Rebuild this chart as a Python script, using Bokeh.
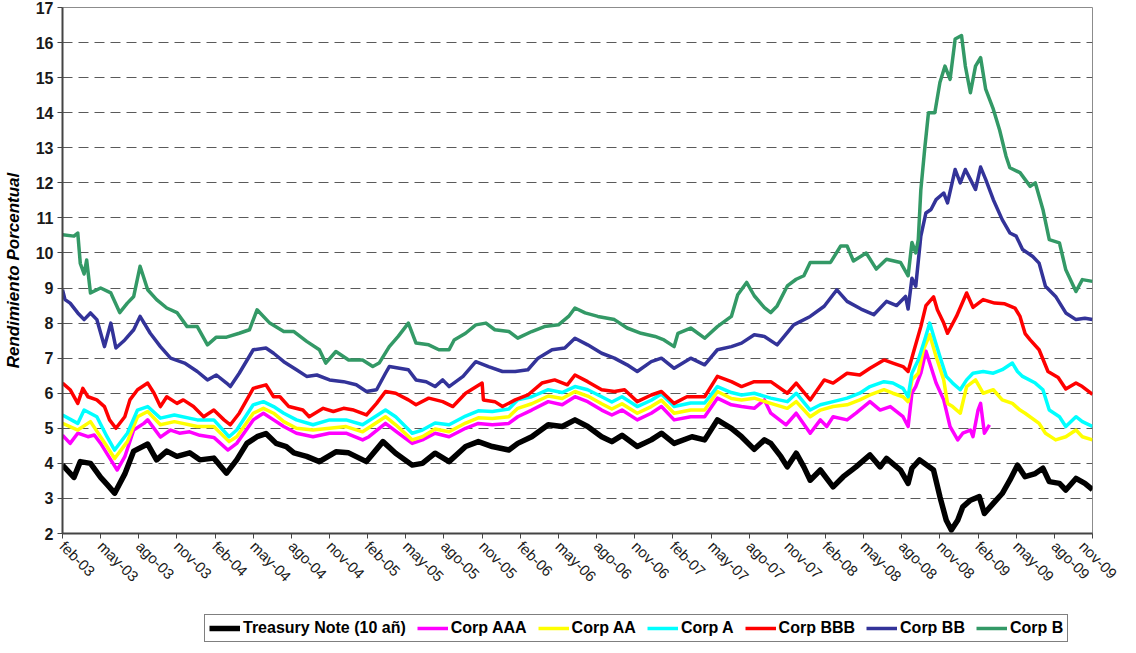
import math
from bokeh.plotting import figure
from bokeh.layouts import column
from bokeh.models import FixedTicker, Legend, LegendItem, Range1d
from bokeh.embed import file_html
from bokeh.resources import INLINE

# x = months since feb-2003
TICK_LABELS = ["feb-03", "may-03", "ago-03", "nov-03", "feb-04", "may-04", "ago-04", "nov-04",
               "feb-05", "may-05", "ago-05", "nov-05", "feb-06", "may-06", "ago-06", "nov-06",
               "feb-07", "may-07", "ago-07", "nov-07", "feb-08", "may-08", "ago-08", "nov-08",
               "feb-09", "may-09", "ago-09", "nov-09"]
Y_TICKS = list(range(2, 18))

SERIES_NAMES = ["Treasury Note (10 añ)", "Corp AAA", "Corp AA", "Corp A", "Corp BBB", "Corp BB", "Corp B"]

TREASURY = [(0.0, 3.95), (0.9, 3.6), (1.4, 4.05), (2.2, 4.0), (3.0, 3.6), (3.5, 3.4), (4.1, 3.15), (4.9, 3.7),
            (5.6, 4.35), (6.7, 4.55), (7.4, 4.1), (8.2, 4.35), (9.0, 4.2), (10.0, 4.3), (10.8, 4.1), (11.9, 4.15),
            (12.9, 3.72), (13.7, 4.1), (14.5, 4.57), (15.3, 4.76), (16.0, 4.85), (16.8, 4.57), (17.6, 4.48),
            (18.2, 4.3), (19.2, 4.2), (20.2, 4.05), (21.5, 4.33), (22.5, 4.3), (23.9, 4.05), (25.2, 4.62),
            (26.2, 4.29), (27.5, 3.95), (28.3, 4.0), (29.3, 4.29), (30.4, 4.05), (31.7, 4.48), (32.7, 4.62),
            (33.8, 4.48), (35.1, 4.38), (35.8, 4.57), (36.9, 4.76), (38.2, 5.1), (39.3, 5.05), (40.3, 5.24),
            (41.3, 5.05), (42.4, 4.76), (43.2, 4.62), (44.0, 4.8), (45.2, 4.48), (46.3, 4.67), (47.1, 4.86),
            (48.1, 4.57), (49.5, 4.76), (50.5, 4.67), (51.5, 5.24), (52.6, 5.0), (53.4, 4.76), (54.4, 4.4),
            (55.2, 4.67), (55.7, 4.57), (56.5, 4.19), (57.0, 3.9), (57.7, 4.29), (58.3, 3.9), (58.8, 3.52),
            (59.6, 3.81), (60.6, 3.33), (61.4, 3.62), (62.4, 3.9), (63.5, 4.24), (64.3, 3.9), (64.8, 4.14),
            (65.9, 3.81), (66.5, 3.43), (66.8, 3.86), (67.4, 4.1), (68.5, 3.81), (69.0, 3.05), (69.5, 2.38),
            (69.9, 2.1), (70.4, 2.38), (70.8, 2.76), (71.4, 2.95), (72.1, 3.05), (72.5, 2.57), (73.2, 2.86),
            (73.9, 3.14), (74.5, 3.52), (75.1, 3.95), (75.7, 3.62), (76.5, 3.71), (77.1, 3.86), (77.6, 3.48),
            (78.4, 3.43), (78.9, 3.24), (79.7, 3.57), (80.4, 3.43), (81.0, 3.25)]

CORP_AAA = [(0.0, 4.8), (0.6, 4.57), (1.2, 4.86), (2.0, 4.76), (2.5, 4.81), (3.0, 4.57), (3.8, 4.1), (4.3, 3.81),
            (4.9, 4.19), (5.6, 4.95), (6.4, 5.14), (6.7, 5.24), (7.7, 4.75), (8.5, 4.95), (9.2, 4.86), (10.0, 4.9),
            (10.8, 4.8), (11.9, 4.74), (13.0, 4.38), (13.7, 4.57), (15.0, 5.24), (15.8, 5.43), (16.6, 5.24),
            (17.4, 5.05), (18.4, 4.86), (19.7, 4.76), (21.0, 4.86), (22.3, 4.86), (23.6, 4.67), (24.1, 4.76),
            (25.4, 5.14), (26.2, 4.92), (27.5, 4.57), (28.3, 4.67), (29.3, 4.86), (30.4, 4.76), (31.7, 5.0),
            (32.7, 5.14), (33.8, 5.1), (35.1, 5.14), (35.8, 5.33), (36.9, 5.52), (38.2, 5.76), (39.3, 5.67),
            (40.3, 5.9), (41.3, 5.76), (42.4, 5.52), (43.2, 5.38), (44.0, 5.52), (45.2, 5.24), (46.3, 5.43),
            (47.1, 5.62), (48.1, 5.24), (49.4, 5.33), (50.5, 5.33), (51.5, 5.86), (52.6, 5.67), (53.4, 5.62),
            (54.4, 5.57), (55.2, 5.81), (55.7, 5.43), (56.9, 5.1), (57.7, 5.43), (58.8, 4.86), (59.6, 5.24),
            (60.1, 5.05), (60.6, 5.33), (61.7, 5.24), (62.4, 5.43), (63.5, 5.76), (64.3, 5.52), (65.1, 5.62),
            (66.1, 5.33), (66.5, 5.05), (66.8, 6.0), (67.1, 6.19), (67.5, 6.57), (67.9, 7.2), (68.2, 6.86),
            (68.7, 6.29), (69.3, 5.81), (69.8, 5.05), (70.4, 4.67), (70.8, 4.86), (71.4, 4.95), (71.6, 4.76),
            (72.0, 5.52), (72.2, 5.71), (72.5, 4.86), (72.9, 5.1)]

CORP_AA = [(0.0, 5.14), (1.2, 4.95), (2.2, 5.19), (3.5, 4.48), (4.1, 4.14), (5.1, 4.62), (5.9, 5.33), (6.7, 5.48),
           (7.7, 5.1), (8.8, 5.19), (10.6, 5.05), (11.9, 5.05), (13.1, 4.62), (13.7, 4.76), (15.0, 5.43),
           (15.8, 5.57), (16.6, 5.43), (17.4, 5.19), (18.4, 5.0), (19.7, 4.95), (21.0, 5.0), (22.3, 5.05),
           (23.6, 4.9), (25.4, 5.33), (26.2, 5.1), (27.5, 4.67), (28.3, 4.76), (29.3, 4.98), (30.4, 4.9),
           (31.7, 5.15), (32.7, 5.3), (33.8, 5.28), (35.1, 5.33), (35.8, 5.57), (36.9, 5.7), (38.2, 5.92),
           (39.3, 5.85), (40.3, 6.05), (41.3, 5.92), (42.4, 5.7), (43.2, 5.55), (44.0, 5.7), (45.2, 5.43),
           (46.3, 5.62), (47.1, 5.8), (48.1, 5.43), (49.4, 5.52), (50.5, 5.52), (51.5, 6.05), (52.6, 5.85),
           (53.4, 5.81), (54.4, 5.86), (55.7, 5.71), (57.0, 5.57), (57.7, 5.76), (58.8, 5.33), (59.6, 5.52),
           (60.6, 5.62), (61.7, 5.67), (62.7, 5.81), (63.5, 5.95), (64.6, 6.1), (65.3, 6.0), (66.1, 5.9),
           (66.5, 5.76), (66.8, 6.38), (67.3, 6.57), (67.7, 7.24), (68.2, 7.67), (68.7, 7.05), (69.3, 6.38),
           (69.6, 5.71), (70.0, 5.62), (70.6, 5.43), (71.1, 6.19), (71.8, 6.38), (72.4, 6.0), (73.2, 6.1),
           (73.9, 5.81), (74.7, 5.71), (75.3, 5.52), (75.7, 5.43), (76.8, 5.14), (77.3, 4.86), (78.1, 4.67),
           (78.9, 4.76), (79.7, 4.95), (80.2, 4.76), (81.0, 4.67)]

CORP_A = [(0.0, 5.38), (1.2, 5.14), (1.7, 5.52), (2.7, 5.33), (3.5, 4.76), (4.1, 4.38), (5.1, 4.86), (5.9, 5.52),
          (6.7, 5.62), (7.7, 5.29), (8.8, 5.38), (10.6, 5.24), (11.9, 5.24), (13.1, 4.76), (13.7, 4.95),
          (15.0, 5.67), (15.8, 5.76), (16.6, 5.62), (17.4, 5.43), (18.4, 5.24), (19.7, 5.1), (21.0, 5.24),
          (22.3, 5.24), (23.6, 5.1), (25.4, 5.52), (26.2, 5.33), (27.5, 4.86), (28.3, 4.95), (29.3, 5.15),
          (30.4, 5.1), (31.7, 5.35), (32.7, 5.5), (33.8, 5.48), (35.1, 5.55), (35.8, 5.81), (36.9, 5.9),
          (38.2, 6.1), (39.3, 6.02), (40.3, 6.19), (41.3, 6.1), (42.4, 5.9), (43.2, 5.75), (44.0, 5.9),
          (45.2, 5.62), (46.3, 5.8), (47.1, 5.98), (48.1, 5.62), (49.4, 5.72), (50.5, 5.72), (51.5, 6.19),
          (52.6, 6.02), (53.4, 5.95), (54.4, 6.0), (55.7, 5.86), (57.0, 5.76), (57.7, 6.0), (58.8, 5.52),
          (59.6, 5.67), (60.6, 5.76), (61.7, 5.86), (62.7, 6.0), (63.5, 6.19), (64.6, 6.33), (65.3, 6.29),
          (66.1, 6.14), (66.5, 5.9), (66.8, 6.57), (67.3, 6.95), (67.8, 7.52), (68.2, 8.0), (68.6, 7.52),
          (69.0, 7.05), (69.5, 6.48), (70.0, 6.29), (70.6, 6.1), (71.1, 6.38), (71.6, 6.57), (72.4, 6.62),
          (73.2, 6.57), (73.9, 6.67), (74.7, 6.86), (75.1, 6.62), (75.5, 6.48), (76.5, 6.29), (77.1, 6.1),
          (77.6, 5.52), (78.4, 5.33), (78.9, 5.05), (79.7, 5.33), (80.2, 5.19), (81.0, 5.05)]

CORP_BBB = [(0.0, 6.29), (0.6, 6.1), (1.2, 5.71), (1.6, 6.14), (2.0, 5.9), (2.7, 5.81), (3.3, 5.62), (3.7, 5.24),
            (4.2, 5.0), (4.9, 5.33), (5.3, 5.81), (5.9, 6.1), (6.7, 6.29), (7.2, 6.0), (7.7, 5.62), (8.2, 5.9),
            (9.0, 5.71), (9.5, 5.81), (10.3, 5.62), (11.1, 5.33), (11.9, 5.52), (12.7, 5.24), (13.2, 5.1),
            (13.9, 5.43), (15.0, 6.14), (16.0, 6.24), (16.6, 5.9), (17.1, 5.9), (17.8, 5.62), (18.9, 5.52),
            (19.4, 5.33), (20.5, 5.57), (21.3, 5.48), (22.1, 5.57), (22.9, 5.52), (23.9, 5.38), (24.7, 5.71),
            (25.4, 6.05), (26.2, 6.0), (27.2, 5.81), (27.8, 5.67), (28.8, 5.86), (29.9, 5.76), (30.7, 5.62),
            (31.7, 6.0), (33.0, 6.29), (33.1, 5.81), (34.0, 5.76), (34.6, 5.62), (35.6, 5.81), (36.6, 5.95),
            (37.7, 6.29), (38.7, 6.38), (39.7, 6.24), (40.3, 6.52), (41.3, 6.33), (42.4, 6.1), (43.4, 6.05),
            (44.2, 6.1), (45.2, 5.76), (46.3, 5.95), (47.1, 6.05), (48.1, 5.71), (49.1, 5.9), (50.5, 5.9),
            (51.5, 6.48), (52.6, 6.33), (53.4, 6.19), (54.4, 6.33), (55.7, 6.33), (57.0, 6.0), (57.7, 6.29),
            (58.8, 5.81), (59.9, 6.38), (60.6, 6.29), (61.7, 6.57), (62.7, 6.52), (63.5, 6.71), (64.6, 6.95),
            (65.3, 6.86), (66.1, 6.76), (66.5, 6.62), (66.9, 7.14), (67.5, 7.9), (67.9, 8.5), (68.5, 8.75),
            (68.8, 8.38), (69.3, 8.0), (69.6, 7.71), (70.3, 8.19), (71.1, 8.86), (71.6, 8.45), (72.4, 8.67),
            (73.3, 8.57), (74.1, 8.55), (74.9, 8.43), (75.3, 8.19), (75.7, 7.7), (76.1, 7.52), (76.8, 7.24),
            (77.5, 6.62), (78.3, 6.45), (78.9, 6.12), (79.7, 6.29), (80.2, 6.19), (81.0, 5.97)]

CORP_BB = [(0.0, 8.95), (0.2, 8.67), (0.6, 8.57), (1.2, 8.29), (1.7, 8.1), (2.2, 8.29), (2.7, 8.1), (3.3, 7.33),
           (3.8, 8.0), (4.2, 7.29), (4.9, 7.52), (5.6, 7.81), (6.1, 8.19), (6.9, 7.71), (7.7, 7.33), (8.5, 7.0),
           (9.6, 6.86), (10.6, 6.62), (11.4, 6.38), (12.1, 6.52), (12.9, 6.29), (13.2, 6.19), (13.9, 6.57),
           (15.0, 7.24), (16.0, 7.29), (16.6, 7.14), (17.4, 6.9), (18.4, 6.67), (19.2, 6.48), (20.0, 6.52),
           (21.0, 6.38), (22.1, 6.33), (23.1, 6.24), (23.9, 6.05), (24.7, 6.1), (25.4, 6.57), (25.7, 6.76),
           (26.5, 6.71), (27.2, 6.67), (27.8, 6.38), (28.6, 6.33), (29.3, 6.19), (29.9, 6.38), (30.4, 6.19),
           (31.5, 6.48), (32.5, 6.9), (33.5, 6.76), (34.6, 6.62), (35.6, 6.62), (36.6, 6.67), (37.4, 7.0),
           (38.5, 7.24), (39.5, 7.29), (40.3, 7.57), (41.3, 7.38), (42.4, 7.14), (43.4, 7.0), (44.4, 6.81),
           (45.2, 6.62), (46.3, 6.9), (47.1, 7.0), (48.1, 6.71), (49.4, 7.0), (50.5, 6.81), (51.5, 7.24),
           (52.6, 7.33), (53.4, 7.43), (54.4, 7.67), (55.2, 7.62), (56.2, 7.38), (57.5, 7.95), (58.8, 8.19),
           (59.9, 8.48), (60.9, 8.95), (61.7, 8.62), (62.8, 8.4), (63.8, 8.24), (64.8, 8.62), (65.6, 8.5),
           (66.3, 8.76), (66.5, 8.4), (66.8, 9.28), (67.1, 9.05), (67.5, 10.48), (67.9, 11.14), (68.3, 11.24),
           (68.7, 11.52), (69.3, 11.71), (69.6, 11.43), (70.2, 12.38), (70.6, 12.0), (71.0, 12.38), (71.4, 12.1),
           (71.8, 11.81), (72.2, 12.45), (72.6, 12.1), (73.2, 11.52), (73.9, 10.95), (74.5, 10.57),
           (75.0, 10.48), (75.5, 10.1), (76.3, 9.9), (76.8, 9.71), (77.3, 9.05), (78.1, 8.76), (78.9, 8.29),
           (79.7, 8.1), (80.4, 8.14), (81.0, 8.1)]

CORP_B = [(0.0, 10.52), (0.9, 10.48), (1.2, 10.57), (1.4, 9.7), (1.7, 9.4), (1.9, 9.8), (2.2, 8.86), (3.0, 9.0),
          (3.8, 8.86), (4.5, 8.3), (5.1, 8.57), (5.6, 8.76), (6.1, 9.62), (6.7, 8.95), (7.4, 8.67), (8.2, 8.43),
          (9.0, 8.3), (9.8, 7.9), (10.6, 7.9), (11.4, 7.38), (12.1, 7.6), (12.9, 7.6), (13.9, 7.71), (14.7, 7.81),
          (15.3, 8.38), (16.3, 8.0), (17.4, 7.76), (18.2, 7.76), (19.2, 7.48), (20.2, 7.24), (20.7, 6.86),
          (21.5, 7.19), (22.5, 6.95), (23.6, 6.95), (24.4, 6.76), (24.9, 6.86), (25.7, 7.33), (26.4, 7.62),
          (27.2, 8.0), (27.8, 7.43), (28.8, 7.38), (29.6, 7.24), (30.4, 7.24), (30.8, 7.52), (31.7, 7.71),
          (32.5, 7.95), (33.3, 8.0), (34.0, 7.81), (35.1, 7.76), (35.8, 7.57), (36.9, 7.76), (37.9, 7.9),
          (39.0, 7.95), (39.8, 8.19), (40.3, 8.43), (41.1, 8.29), (42.1, 8.19), (43.4, 8.1), (44.4, 7.86),
          (45.5, 7.71), (46.6, 7.62), (47.3, 7.52), (48.1, 7.33), (48.4, 7.71), (49.4, 7.86), (50.5, 7.57),
          (51.5, 7.9), (52.6, 8.19), (53.1, 8.81), (53.8, 9.16), (54.4, 8.78), (55.2, 8.44), (55.7, 8.3),
          (56.2, 8.49), (57.0, 9.06), (57.7, 9.25), (58.3, 9.35), (58.8, 9.73), (59.6, 9.73), (60.4, 9.73),
          (61.2, 10.2), (61.7, 10.2), (62.2, 9.77), (63.2, 10.0), (64.0, 9.54), (64.8, 9.82), (65.9, 9.73),
          (66.5, 9.35), (66.8, 10.3), (67.1, 10.0), (67.3, 10.38), (67.5, 11.8), (67.8, 12.95), (68.1, 14.0),
          (68.6, 14.0), (69.0, 14.86), (69.4, 15.33), (69.8, 14.95), (70.2, 16.1), (70.7, 16.2), (71.0, 15.33),
          (71.4, 14.57), (71.8, 15.33), (72.2, 15.57), (72.6, 14.67), (73.2, 14.1), (73.7, 13.5), (74.2, 12.76),
          (74.5, 12.43), (75.3, 12.29), (76.1, 11.9), (76.5, 12.0), (77.1, 11.24), (77.6, 10.38), (78.4, 10.29),
          (78.9, 9.52), (79.7, 8.9), (80.2, 9.24), (81.0, 9.19)]

SERIES = [TREASURY, CORP_AAA, CORP_AA, CORP_A, CORP_BBB, CORP_BB, CORP_B]
COLORS = ["#000000", "#FF00FF", "#FFFF00", "#00FFFF", "#FF0000", "#333399", "#339966"]
WIDTHS = [5.5, 3.5, 3.5, 3.5, 3.5, 3.5, 3.5]

FONT = "Liberation Sans"

# ---------------- main chart ----------------
p = figure(width=1120, height=614, output_backend="svg", toolbar_location=None,
           x_range=Range1d(0, 81), y_range=Range1d(2, 17),
           min_border_left=57, min_border_right=28, min_border_top=7, min_border_bottom=81,
           background_fill_color="white", border_fill_color="white")

p.outline_line_color = "#8c8c8c"
p.outline_line_width = 1
p.xgrid.visible = False
p.ygrid.grid_line_color = "#5a5a5a"
p.ygrid.grid_line_dash = "10 6"
p.ygrid.grid_line_width = 1

for data, color, w in zip(SERIES, COLORS, WIDTHS):
    p.line([d[0] for d in data], [d[1] for d in data],
           line_color=color, line_width=w, line_join="round")

p.yaxis.ticker = FixedTicker(ticks=Y_TICKS)
p.yaxis.major_label_text_font = FONT
p.yaxis.major_label_text_font_style = "bold"
p.yaxis.major_label_text_font_size = "16px"
p.yaxis.major_label_text_color = "#1a1a1a"
p.yaxis.major_tick_out = 5
p.yaxis.major_tick_in = 0
p.yaxis.minor_tick_out = 0
p.yaxis.minor_tick_in = 0
p.yaxis.major_label_standoff = 4
p.yaxis.axis_line_color = "#444444"
p.yaxis.axis_line_width = 2
p.yaxis.major_tick_line_color = "#444444"
p.yaxis.axis_label = "Rendimiento Porcentual"
p.yaxis.axis_label_text_font = FONT
p.yaxis.axis_label_text_font_style = "bold italic"
p.yaxis.axis_label_text_font_size = "17px"
p.yaxis.axis_label_text_color = "#000000"
p.yaxis.axis_label_standoff = 10

x_ticks = [3 * i for i in range(len(TICK_LABELS))]
p.xaxis.ticker = FixedTicker(ticks=x_ticks)
p.xaxis.major_label_overrides = {t: lab for t, lab in zip(x_ticks, TICK_LABELS)}
p.xaxis.major_label_orientation = -math.pi / 4
p.xaxis.major_label_text_font = FONT
p.xaxis.major_label_text_font_size = "15px"
p.xaxis.major_label_text_color = "#1a1a1a"
p.xaxis.major_tick_out = 5
p.xaxis.major_tick_in = 0
p.xaxis.minor_tick_out = 0
p.xaxis.minor_tick_in = 0
p.xaxis.major_label_standoff = 5
p.xaxis.axis_line_color = "#444444"
p.xaxis.axis_line_width = 2
p.xaxis.major_tick_line_color = "#444444"

# ---------------- legend strip (no axes, frame = whole strip) ----------------
lg = figure(width=1120, height=28, output_backend="svg", toolbar_location=None,
            x_axis_location=None, y_axis_location=None,
            x_range=Range1d(0, 1), y_range=Range1d(0, 1),
            min_border_left=0, min_border_right=0, min_border_top=0, min_border_bottom=0,
            background_fill_color="white", border_fill_color="white")
lg.grid.visible = False
lg.outline_line_color = None

legend_renderers = []
for data, color, w in zip(SERIES, COLORS, WIDTHS):
    # same series, lying outside this strip's range: only the legend keys show
    r = lg.line([d[0] for d in data], [d[1] + 100 for d in data], line_color=color, line_width=w)
    legend_renderers.append(r)

legend = Legend(
    items=[LegendItem(label=n, renderers=[r]) for n, r in zip(SERIES_NAMES, legend_renderers)],
    orientation="horizontal", location=(142, 0),
    border_line_color="#000000", border_line_width=1,
    background_fill_color="white", background_fill_alpha=1.0,
    label_text_font=FONT, label_text_font_style="bold", label_text_font_size="16px",
    label_text_color="#000000", label_height=18,
    glyph_width=31, glyph_height=18, label_standoff=3, spacing=11, padding=4, margin=0,
)
lg.add_layout(legend, "center")

layout = column(p, lg, spacing=0)
open("out.html", "w").write(file_html(layout, INLINE))
